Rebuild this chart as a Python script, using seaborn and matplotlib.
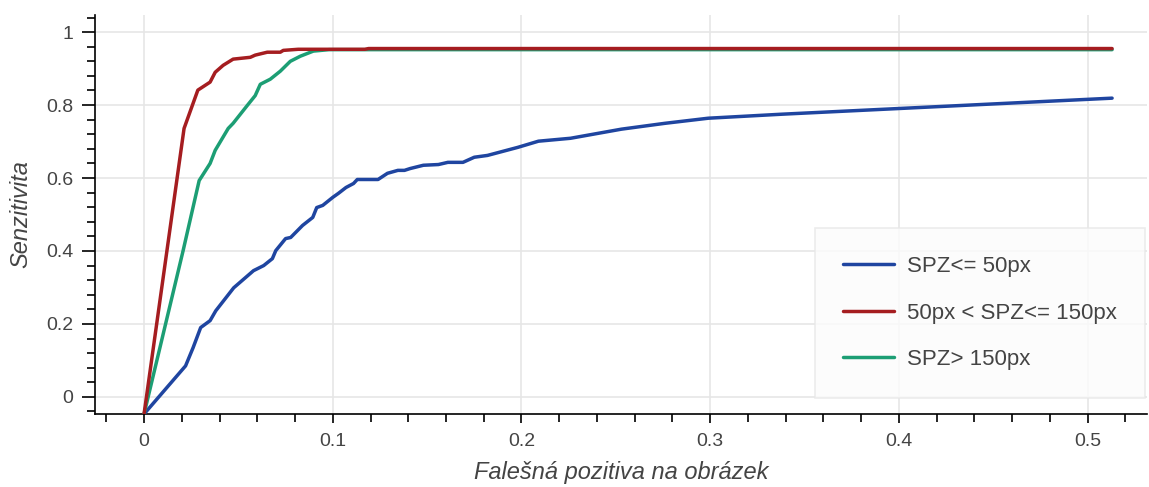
import numpy as np
import pandas as pd
import matplotlib
matplotlib.use('Agg')
import matplotlib.pyplot as plt
from matplotlib.ticker import MultipleLocator, FuncFormatter
import seaborn as sns

# hodnoty
blue_x = [0, 0.022, 0.026, 0.030, 0.035, 0.038, 0.0475, 0.058, 0.0634, 0.068, 0.0698,
          0.075, 0.0777, 0.084, 0.0894, 0.0915, 0.0947, 0.100, 0.103, 0.107, 0.111,
          0.113, 0.124, 0.129, 0.1345, 0.138, 0.141, 0.148, 0.156, 0.161, 0.169,
          0.175, 0.182, 0.198, 0.209, 0.226, 0.253, 0.276, 0.299, 0.338, 0.513]
blue_y = [-0.047, 0.085, 0.135, 0.190, 0.209, 0.236, 0.299, 0.346, 0.360, 0.379, 0.401,
          0.434, 0.437, 0.470, 0.492, 0.519, 0.525, 0.547, 0.558, 0.574, 0.585,
          0.596, 0.596, 0.613, 0.621, 0.621, 0.626, 0.635, 0.637, 0.643, 0.643,
          0.657, 0.662, 0.684, 0.701, 0.709, 0.734, 0.750, 0.764, 0.775, 0.819]

red_x = [0, 0.0212, 0.0285, 0.0350, 0.0377, 0.0419, 0.0472, 0.0563, 0.0589, 0.0653,
         0.0722, 0.0738, 0.0817, 0.117, 0.119, 0.513]
red_y = [-0.047, 0.736, 0.841, 0.863, 0.890, 0.909, 0.926, 0.931, 0.937, 0.945,
         0.945, 0.950, 0.953, 0.953, 0.955, 0.955]

green_x = [0, 0.0207, 0.0292, 0.0350, 0.0377, 0.0446, 0.0472, 0.0547, 0.0589, 0.0616,
           0.0669, 0.0722, 0.0775, 0.0828, 0.0897, 0.098, 0.513]
green_y = [-0.047, 0.401, 0.593, 0.640, 0.676, 0.736, 0.750, 0.799, 0.826, 0.857,
           0.871, 0.893, 0.920, 0.934, 0.948, 0.952, 0.952]

labels = ['SPZ<= 50px', '50px < SPZ<= 150px', 'SPZ> 150px']
colors = ['#1f45a0', '#a51d20', '#1c9e74']

sns.set_theme(style='white')
plt.rcParams['font.family'] = ['Liberation Sans', 'DejaVu Sans']

fig = plt.figure(figsize=(11.49, 4.87), dpi=100)
ax = fig.add_axes([95 / 1149, 1 - 414 / 487, (1147 - 95) / 1149, (414 - 15) / 487])

series = [(blue_x, blue_y), (red_x, red_y), (green_x, green_y)]
zorders = [3, 5, 4]
for (xs, ys), lab, col, z in zip(series, labels, colors, zorders):
    df = pd.DataFrame({'x': xs, 'y': ys})
    sns.lineplot(data=df, x='x', y='y', sort=False, estimator=None, color=col,
                 linewidth=2.5, ax=ax, zorder=z, label=lab)

ax.set_xlim(-0.026, 0.5315)
ax.set_ylim(-0.047, 1.047)
ax.xaxis.set_major_locator(MultipleLocator(0.1))
ax.xaxis.set_minor_locator(MultipleLocator(0.02))
ax.yaxis.set_major_locator(MultipleLocator(0.2))
ax.yaxis.set_minor_locator(MultipleLocator(0.04))
fmt = FuncFormatter(lambda v, p: f"{round(v, 6):g}")
ax.xaxis.set_major_formatter(fmt)
ax.yaxis.set_major_formatter(fmt)

ax.grid(True, which='major', color='#e6e6e6', linewidth=1.2)
ax.set_axisbelow(True)
for s in ['top', 'right']:
    ax.spines[s].set_visible(False)
for s in ['left', 'bottom']:
    ax.spines[s].set_color('black')
    ax.spines[s].set_linewidth(1.2)

ax.tick_params(axis='both', which='both', bottom=True, left=True, colors='black',
               labelcolor='#444444', labelsize=14, width=1.2, direction='out')
ax.tick_params(axis='x', which='major', length=6.5, pad=7)
ax.tick_params(axis='x', which='minor', length=6)
ax.tick_params(axis='y', which='major', length=9.5, pad=6)
ax.tick_params(axis='y', which='minor', length=6)

ax.set_xlabel('Falešná pozitiva na obrázek', fontsize=17, style='italic', color='#444444', labelpad=8)
ax.set_ylabel('Senzitivita', fontsize=17, style='italic', color='#444444', labelpad=10)

leg = ax.legend(loc='lower right', bbox_to_anchor=(1145 / 1149, 1 - 398 / 487),
                bbox_transform=fig.transFigure, fontsize=16, frameon=True,
                fancybox=False, borderpad=1.25, labelspacing=1.15,
                handlelength=2.3, handletextpad=0.6, borderaxespad=0)
leg.get_frame().set_facecolor('#fcfcfc')
leg.get_frame().set_edgecolor('#e8e8e8')
leg.get_frame().set_linewidth(1.2)
for t in leg.get_texts():
    t.set_color('#444444')

fig.savefig('out.png', dpi=100)
